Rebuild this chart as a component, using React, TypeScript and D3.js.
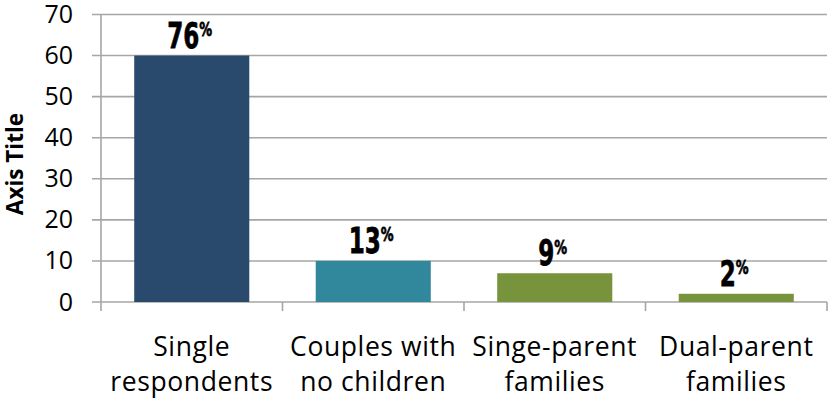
import React from "react";
import * as d3 from "d3";

const categories = ["Single respondents", "Couples with no children", "Singe-parent families", "Dual-parent families"];
const categoryLines = [["Single", "respondents"], ["Couples with", "no children"], ["Singe-parent", "families"], ["Dual-parent", "families"]];
const values = [60, 10, 7, 2];
const labelNumbers = ["76", "13", "9", "2"];
const colors = ["#2A4A6D", "#31879C", "#77933C", "#77933C"];
const yTicks = [0, 10, 20, 30, 40, 50, 60, 70];

const W = 828;
const H = 398;
const left = 101;
const right = 827;
const top = 14.5;
const bottom = 302;

export default function App() {
  const x = d3.scaleBand<string>().domain(categories).range([left, right]).paddingInner(0.366).paddingOuter(0.183);
  const y = d3.scaleLinear().domain([0, 70]).range([bottom, top]);
  const step = x.step();
  const grid = "#A6A6A6";
  const font = "'Open Sans', 'Noto Sans', sans-serif";
  const labelFont = "'DejaVu Sans', sans-serif";
  return (
    <svg width={W} height={H} style={{ position: "absolute", left: 0, top: 0, background: "#fff" }}>
      {yTicks.map((t) => (
        <g key={t}>
          <line x1={left - 9} x2={right} y1={y(t)} y2={y(t)} stroke={grid} strokeWidth={1.6} />
          <text x={73} y={y(t) + 8.5} textAnchor="end" fontFamily={font} fontSize={25} fill="#000">
            {t}
          </text>
        </g>
      ))}
      <line x1={left} x2={left} y1={top} y2={bottom + 9} stroke={grid} strokeWidth={1.6} />
      {categories.map((c, i) => (
        <line key={c} x1={left + (i + 1) * step} x2={left + (i + 1) * step} y1={bottom} y2={bottom + 9} stroke={grid} strokeWidth={1.6} />
      ))}
      {categories.map((c, i) => (
        <rect key={c} x={x(c)} y={y(values[i])} width={x.bandwidth()} height={y(0) - y(values[i])} fill={colors[i]} />
      ))}
      {categories.map((c, i) => (
        <g key={c} transform={`translate(${(x(c) as number) + x.bandwidth() / 2 - 2},${y(values[i]) - 8}) scale(0.64,1)`}>
          <text x={0} y={0} textAnchor="middle" fontFamily={labelFont} fontWeight="bold" fontSize={36} fill="#000" stroke="#000" strokeWidth={0.8}>
            {labelNumbers[i]}
            <tspan fontSize={20} dy={-11.5}>%</tspan>
          </text>
        </g>
      ))}
      {categories.map((c, i) =>
        categoryLines[i].map((ln, j) => (
          <text key={c + j} x={(x(c) as number) + x.bandwidth() / 2} y={356 + j * 35} textAnchor="middle" fontFamily={font} fontSize={26.5} letterSpacing={0.6} fill="#000">
            {ln}
          </text>
        ))
      )}
      <text transform={`translate(23,164) rotate(-90)`} textAnchor="middle" fontFamily={font} fontWeight="bold" fontSize={22.5} fill="#000">
        Axis Title
      </text>
    </svg>
  );
}
